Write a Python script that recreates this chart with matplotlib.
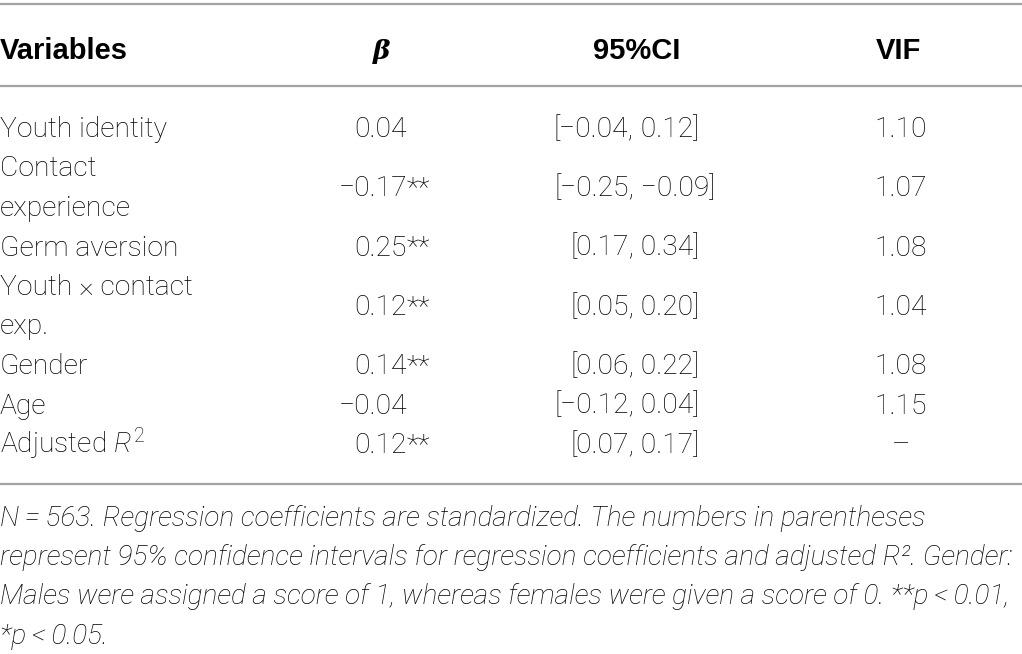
import matplotlib
matplotlib.use('Agg')
from matplotlib import pyplot as plt

# table content
headers = ['Variables', 'β', '95%CI', 'VIF']
variables = ['Youth identity', 'Contact\nexperience', 'Germ aversion',
             'Youth × contact\nexp.', 'Gender', 'Age', 'Adjusted $R^2$']
beta = ['0.04', '−0.17', '0.25', '0.12', '0.14', '−0.04', '0.12']
beta_stars = ['', '**', '**', '**', '**', '', '**']
ci = ['[−0.04, 0.12]', '[−0.25, −0.09]', '[0.17, 0.34]', '[0.05, 0.20]',
      '[0.06, 0.22]', '[−0.12, 0.04]', '[0.07, 0.17]']
vif = ['1.10', '1.07', '1.08', '1.04', '1.08', '1.15', '–']
notes = [
  'N\u2009=\u2009563. Regression coefficients are standardized. The numbers in parentheses',
  'represent 95% confidence intervals for regression coefficients and adjusted R². Gender:',
  'Males were assigned a score of 1, whereas females were given a score of 0. **p\u2009<\u20090.01,',
  '*p\u2009<\u20090.05.',
]

W, H = 1022, 654
body = dict(family='Roboto', weight='light', size=20.3, color='#000000')
bold = dict(family='Liberation Sans', weight='bold', size=21, color='#000000')
note = dict(family='Roboto', weight='light', style='italic', size=20.2, color='#000000')

matplotlib.rc('mathtext', fontset='custom', rm='Roboto:light', it='Roboto:italic:light')


def main():
  fig = plt.figure(figsize=(W / 100, H / 100), dpi=100)
  ax = fig.add_axes([0, 0, 1, 1])
  ax.set_xlim(0, W)
  ax.set_ylim(H, 0)
  ax.axis('off')

  for y in [4, 85.5, 484]:
    ax.plot([0, W], [y, y], color='#a3a3a3', lw=1.6, solid_capstyle='butt')

  # header
  ax.text(0, 59, headers[0], ha='left', va='baseline', **bold)
  ax.text(382, 59, headers[1], ha='center', va='baseline', family='DejaVu Serif',
          style='italic', weight='bold', size=19, color='#000000')
  ax.text(637, 59, headers[2], ha='center', va='baseline', **bold)
  ax.text(898, 59, headers[3], ha='center', va='baseline', **bold)

  pitch = 39.5
  line = 0
  for i, var in enumerate(variables):
    parts = var.split('\n')
    base0 = 137 + pitch * line
    for k, p in enumerate(parts):
      ax.text(0, base0 + pitch * k, p, ha='left', va='baseline', **body)
    yb = base0 + pitch * (len(parts) - 1) / 2
    ax.text(407, yb, beta[i], ha='right', va='baseline', **body)
    ax.text(407, yb, beta_stars[i], ha='left', va='baseline', **body)
    lo, hi = ci[i].split(', ')
    ax.text(634, yb, lo + ',', ha='right', va='baseline', **body)
    ax.text(634, yb, ' ' + hi, ha='left', va='baseline', **body)
    ax.text(901, yb, vif[i], ha='center', va='baseline', **body)
    line += len(parts)

  for k, n in enumerate(notes):
    ax.text(0, 526 + 39.2 * k, n, ha='left', va='baseline', **note)

  fig.savefig('out.png', dpi=100)


if __name__ == '__main__':
  main()
